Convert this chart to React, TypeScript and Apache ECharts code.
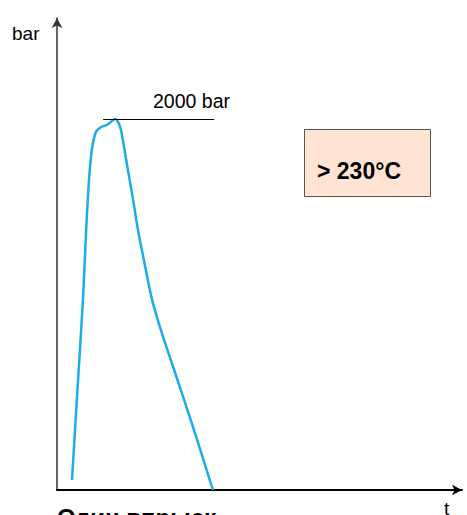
import React, { useEffect, useRef } from "react";
import * as echarts from "echarts";

// time (arbitrary units) and pressure (bar)
const timeValues = [0.37, 0.52, 0.64, 0.72, 0.79, 0.86, 0.96, 1.09, 1.23, 1.33, 1.43, 1.51, 1.58, 1.73, 1.88, 2.0, 2.12, 2.35, 2.59, 2.81, 3.14, 3.46, 3.85];
const pressureValues = [54, 593, 1024, 1402, 1671, 1833, 1930, 1957, 1968, 1984, 2000, 1984, 1941, 1752, 1563, 1402, 1267, 1024, 846, 701, 485, 270, 0];
const peakLineValue = 2000;
const peakLineRange = [1.14, 3.88];
const peakLabel = "2000 bar";
const axisNames = { y: "bar", x: "t" };
const boxText = "> 230°C";
const caption = "Один впрыск";

const FONT = "'Liberation Sans', Arial, sans-serif";

export default function App() {
  const ref = useRef<HTMLDivElement>(null);
  useEffect(() => {
    if (!ref.current) return;
    const chart = echarts.init(ref.current, null, { renderer: "svg" });
    chart.setOption({
      animation: false,
      backgroundColor: "#ffffff",
      grid: { left: 57, right: 5, top: 18, bottom: 25 },
      xAxis: {
        type: "value",
        min: 0,
        max: 10,
        axisLine: { show: true, lineStyle: { color: "#000", width: 2 }, symbol: ["none", "arrow"], symbolSize: [8, 10] },
        axisTick: { show: false },
        axisLabel: { show: false },
        splitLine: { show: false },
      },
      yAxis: {
        type: "value",
        min: 0,
        max: 2545,
        axisLine: { show: true, lineStyle: { color: "#333", width: 1.5 }, symbol: ["none", "arrow"], symbolSize: [8, 10] },
        axisTick: { show: false },
        axisLabel: { show: false },
        splitLine: { show: false },
      },
      series: [
        {
          type: "line",
          data: timeValues.map((t, i) => [t, pressureValues[i]]),
          smooth: 0.3,
          showSymbol: false,
          lineStyle: { color: "#1BADE6", width: 2.5 },
          markLine: {
            silent: true,
            symbol: ["none", "none"],
            lineStyle: { color: "#000", width: 1, type: "solid" },
            label: { show: false },
            data: [[{ coord: [peakLineRange[0], peakLineValue] }, { coord: [peakLineRange[1], peakLineValue] }]],
          },
        },
      ],
      graphic: [
        {
          type: "text",
          x: 12,
          y: 33.4,
          style: { text: axisNames.y, font: `19px ${FONT}`, fill: "#000", textVerticalAlign: "middle" },
        },
        {
          type: "text",
          x: 444,
          y: 508.4,
          style: { text: axisNames.x, font: `19px ${FONT}`, fill: "#000", textVerticalAlign: "middle" },
        },
        {
          type: "text",
          x: 153,
          y: 101.2,
          style: { text: peakLabel, font: `19.5px ${FONT}`, fill: "#000", textVerticalAlign: "middle" },
        },
        {
          type: "rect",
          shape: { x: 304.5, y: 129.5, width: 126, height: 67 },
          style: { fill: "#FFE4D4", stroke: "#555", lineWidth: 1 },
        },
        {
          type: "text",
          x: 317,
          y: 171,
          style: { text: boxText, font: `bold 23px ${FONT}`, fill: "#000", textVerticalAlign: "middle" },
        },
        {
          type: "text",
          x: 57,
          y: 517,
          style: { text: caption, font: `bold 24px ${FONT}`, fill: "#000", textVerticalAlign: "middle" },
        },
      ],
    });
    return () => chart.dispose();
  }, []);
  return <div ref={ref} style={{ width: 467, height: 515, position: "absolute", left: 0, top: 0 }} />;
}
